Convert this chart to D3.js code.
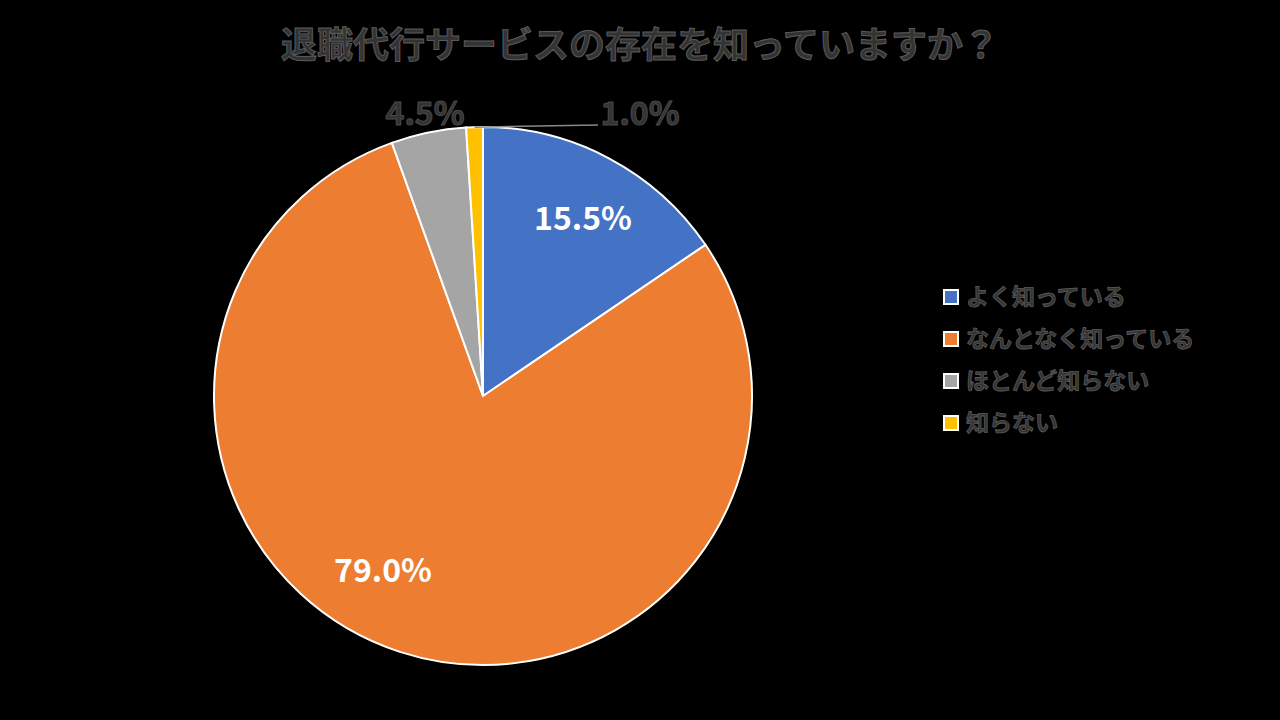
<!DOCTYPE html><html><head><meta charset="utf-8"><script src="https://cdn.jsdelivr.net/npm/d3@7"></script>
<style>body{margin:0;background:#000}</style></head><body><svg id="c" width="1280" height="720"></svg><script>
const categories=["よく知っている","なんとなく知っている","ほとんど知らない","知らない"];
const values=[15.5,79.0,4.5,1.0];
const colors=["#4472C4","#ED7D31","#A5A5A5","#FFC000"];
const title="退職代行サービスの存在を知っていますか？";
const font="'Noto Sans CJK JP', sans-serif";
const svg=d3.select("#c");
svg.append("rect").attr("width",1280).attr("height",720).attr("fill","#000");
svg.append("text").attr("x",640).attr("y",58).attr("text-anchor","middle").attr("font-family",font).attr("font-size",36).attr("font-weight","bold").attr("fill","#333").attr("stroke","#5a5a5a").attr("stroke-width",1).text(title);
const cx=483,cy=396,r=269;
const g=svg.append("g").attr("transform",`translate(${cx},${cy})`);
const pie=d3.pie().sort(null).value(d=>d)(values);
const arc=d3.arc().innerRadius(0).outerRadius(r);
g.selectAll("path").data(pie).join("path").attr("d",arc).attr("fill",(d,i)=>colors[i]).attr("stroke","#fff").attr("stroke-width",2);
const lab=d3.arc().innerRadius(r*0.62).outerRadius(r*0.62);
const lblStyle=s=>s.attr("font-family",font).attr("font-weight","bold").attr("text-anchor","middle");
// inside labels
[0,1].forEach(i=>{
  let [x,y]=lab.centroid(pie[i]);
  if(i===0){x=100;y=-178;} else {x=-100;y=174;}
  lblStyle(g.append("text")).attr("x",x).attr("y",y+12).attr("font-size",32).attr("fill","#fff").text(values[i].toFixed(1)+"%");
});
// outside labels
const outLab=[{i:2,x:-58,y:-283},{i:3,x:157,y:-283}];
outLab.forEach(o=>{
  lblStyle(g.append("text")).attr("x",o.x).attr("y",o.y+12).attr("font-size",32).attr("fill","#333").attr("stroke","#4a4a4a").attr("stroke-width",1).text(values[o.i].toFixed(1)+"%");
});
const a3=(pie[3].startAngle+pie[3].endAngle)/2;
g.append("path").attr("d",`M${Math.sin(a3)*r},${-Math.cos(a3)*r}L115,-271`).attr("stroke","#888").attr("stroke-width",1.5).attr("fill","none");
const lg=svg.append("g").attr("transform","translate(944,297)");
categories.forEach((c,i)=>{
  const row=lg.append("g").attr("transform",`translate(0,${i*42})`);
  row.append("rect").attr("x",0).attr("y",-7).attr("width",14).attr("height",14).attr("fill",colors[i]).attr("stroke","#fff").attr("stroke-width",2);
  row.append("text").attr("x",22).attr("y",8).attr("font-family",font).attr("font-size",23).attr("font-weight","bold").attr("fill","#333").attr("stroke","#5a5a5a").attr("stroke-width",0.8).text(c);
});
</script></body></html>
